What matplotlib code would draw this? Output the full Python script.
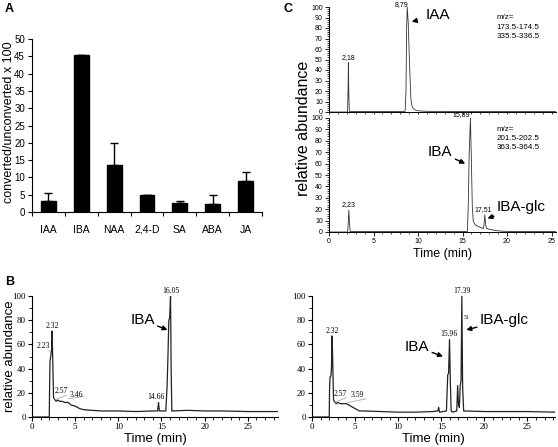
import matplotlib
matplotlib.use("Agg")
import matplotlib.pyplot as plt
from matplotlib.ticker import MultipleLocator, FixedLocator, NullFormatter

# ---------------- data ----------------
categories = ["IAA", "IBA", "NAA", "2,4-D", "SA", "ABA", "JA"]
ratio_values = [3.2, 45.3, 13.5, 4.8, 2.6, 2.3, 9.0]
ratio_errors = [2.3, 0.2, 6.5, 0.2, 0.7, 2.7, 2.6]

# Panel C, top trace (m/z 173.5-174.5, 335.5-336.5)
c_top_time = [0, 2.08, 2.14, 2.18, 2.22, 2.28, 8.55, 8.65, 8.72, 8.79, 8.9, 9.05, 9.2,
              9.35, 9.5, 9.8, 10.2, 11, 25.5]
c_top_abund = [0, 0, 20, 47, 20, 0.5, 0.5, 20, 80, 100, 85, 45, 12, 5, 3, 1.5, 1, 0.6, 0.4]

# Panel C, bottom trace (m/z 201.5-202.5, 363.5-364.5)
c_bot_time = [0, 2.1, 2.16, 2.23, 2.3, 2.38, 15.55, 15.65, 15.75, 15.89, 16.0, 16.1, 16.2,
              16.35, 16.6, 17.0, 17.35, 17.43, 17.51, 17.6, 17.7, 18.2, 19, 20, 25.5]
c_bot_abund = [0, 0, 8, 19, 8, 0.5, 0.5, 25, 70, 100, 60, 22, 10, 7, 5.5, 4, 3, 8, 15, 6,
               3, 2, 1, 0.5, 0.4]

# Panel B, left trace
b1_time = [0, 2.0, 2.04, 2.08, 2.12, 2.18, 2.23, 2.27, 2.32, 2.38, 2.45, 2.5, 2.57, 2.8,
           3.0, 3.2, 3.46, 3.8, 4.2, 4.5, 5.0, 5.5, 6.0, 7, 8, 9, 10, 12, 14, 14.55,
           14.66, 14.75, 15.5, 15.65, 15.75, 15.85, 15.95, 16.05, 16.12, 16.2, 16.3,
           18, 20, 22, 25, 28.5]
b1_abund = [0, 0, 25, 45, 48, 50, 54, 55, 71, 55, 30, 16, 15, 13, 14, 13, 13, 12, 12, 10,
            9, 7, 6, 5.5, 5, 5, 5, 4.5, 5, 5, 12, 5, 5, 25, 50, 80, 82, 100, 40, 5, 5,
            5.5, 5, 5, 4.5, 4.5]

# Panel B, right trace
b2_time = [0, 2.0, 2.04, 2.1, 2.2, 2.26, 2.32, 2.38, 2.45, 2.5, 2.57, 2.8, 3.0, 3.3, 3.59,
           4.0, 4.5, 5.0, 5.5, 6.0, 8, 10, 12, 14, 14.6, 14.7, 14.8, 15.6, 15.75, 15.85,
           15.96, 16.05, 16.15, 16.3, 16.8, 16.9, 17.0, 17.1, 17.2, 17.3, 17.39, 17.48,
           17.6, 20, 25, 28.3]
b2_abund = [0, 0, 25, 33, 34, 40, 67, 54, 30, 14, 13, 11, 12, 11, 11, 11, 9, 7, 5, 5, 4.5,
            4, 4, 4.5, 5, 8, 4, 5, 35, 36, 64, 30, 5, 4, 5, 26, 10, 8, 26, 30, 100, 25,
            5, 4.5, 4.5, 4]

SANS = ["Liberation Sans", "DejaVu Sans"]
SERIF = ["Liberation Serif", "DejaVu Serif"]

fig = plt.figure(figsize=(5.58, 4.47), dpi=100)
W, H = 558.0, 447.0

def ax_px(left, top, right, bottom):
    return fig.add_axes([left / W, 1 - bottom / H, (right - left) / W, (bottom - top) / H])

# ---------------- Panel A ----------------
axA = ax_px(32, 39, 262, 212)
x = list(range(len(categories)))
axA.bar(x, ratio_values, width=0.45, color="black", edgecolor="black")
axA.errorbar(x, ratio_values, yerr=[[0] * len(ratio_errors), ratio_errors], fmt="none",
             ecolor="black", elinewidth=1, capsize=3, capthick=1)
axA.set_xlim(-0.5, len(categories) - 0.5)
axA.set_ylim(0, 50)
axA.yaxis.set_major_locator(MultipleLocator(5))
axA.set_xticks(x)
axA.set_xticklabels(categories, fontfamily=SANS, fontsize=7.5)
axA.xaxis.set_minor_locator(FixedLocator([i - 0.5 for i in range(len(categories) + 1)]))
axA.tick_params(axis="x", which="major", length=0, pad=9)
axA.tick_params(axis="x", which="minor", length=3, width=0.8, direction="out")
axA.tick_params(axis="y", length=3, width=0.8, labelsize=7, pad=2)
for lab in axA.get_yticklabels():
    lab.set_fontfamily(SANS)
for s in ("top", "right"):
    axA.spines[s].set_visible(False)
fig.text(9 / W, 1 - 122 / H, "converted/unconverted x 100", rotation=90, fontsize=9,
         fontfamily=SANS, ha="center", va="center")
fig.text(5 / W, 1 - 12 / H, "A", fontfamily=SANS, fontweight="bold", fontsize=9)

# ---------------- Panel C ----------------
def style_c(ax, show_xlabels):
    ax.set_xlim(0, 25.5)
    ax.set_ylim(0, 100)
    for s in ("top", "right"):
        ax.spines[s].set_visible(False)
    ax.xaxis.set_major_locator(MultipleLocator(5))
    ax.xaxis.set_minor_locator(MultipleLocator(1))
    ax.yaxis.set_major_locator(MultipleLocator(10))
    ax.yaxis.set_minor_locator(MultipleLocator(2))
    ax.tick_params(which="major", length=3, width=0.6, labelsize=5, pad=1.5)
    ax.tick_params(which="minor", length=1.5, width=0.5)
    for sp in ax.spines.values():
        sp.set_linewidth(0.7)
    for lab in ax.get_xticklabels() + ax.get_yticklabels():
        lab.set_fontfamily(SANS)
    if not show_xlabels:
        ax.xaxis.set_major_formatter(NullFormatter())
        ax.tick_params(axis="x", which="both", length=1.5)

axC1 = ax_px(329, 7, 556, 112)
axC1.plot(c_top_time, c_top_abund, color="#333333", lw=0.6)
style_c(axC1, False)
axC1.text(2.18, 49, "2,18", fontsize=5, ha="center", va="bottom", fontfamily=SANS)
axC1.text(8.2, 99, "8,79", fontsize=5, ha="center", va="bottom", fontfamily=SANS)
axC1.annotate("IAA", xy=(9.3, 86), xytext=(12.2, 92), fontsize=11, fontfamily=SANS,
              ha="center", va="center",
              arrowprops=dict(arrowstyle="-|>", color="black", lw=1, shrinkA=6, shrinkB=0,
                              mutation_scale=7))
axC1.text(18.8, 93, "m/z=\n173.5-174.5\n335.5-336.5", fontsize=5.8, va="top", ha="left",
          fontfamily=SANS, linespacing=1.45)

axC2 = ax_px(329, 118, 556, 232)
axC2.plot(c_bot_time, c_bot_abund, color="#333333", lw=0.6)
style_c(axC2, True)
axC2.text(2.23, 21, "2,23", fontsize=5, ha="center", va="bottom", fontfamily=SANS)
axC2.text(14.9, 100, "15,89", fontsize=5, ha="center", va="bottom", fontfamily=SANS)
axC2.text(17.3, 17, "17,51", fontsize=5, ha="center", va="bottom", fontfamily=SANS)
axC2.annotate("IBA", xy=(15.3, 60), xytext=(12.5, 70), fontsize=11, fontfamily=SANS,
              ha="center", va="center",
              arrowprops=dict(arrowstyle="-|>", color="black", lw=1, shrinkA=8, shrinkB=0,
                              mutation_scale=7))
axC2.annotate("IBA-glc", xy=(17.8, 12), xytext=(21.6, 22), fontsize=11, fontfamily=SANS,
              ha="center", va="center",
              arrowprops=dict(arrowstyle="-|>", color="black", lw=1, shrinkA=14, shrinkB=0,
                              mutation_scale=7))
axC2.text(18.8, 93, "m/z=\n201.5-202.5\n363.5-364.5", fontsize=5.8, va="top", ha="left",
          fontfamily=SANS, linespacing=1.45)
axC2.set_xlabel("Time (min)", fontsize=9, fontfamily=SANS, labelpad=2)
fig.text(304 / W, 1 - 128 / H, "relative abundance", rotation=90, fontsize=11.5,
         fontfamily=SANS, ha="center", va="center")
fig.text(283 / W, 1 - 12 / H, "C", fontfamily=SANS, fontweight="bold", fontsize=9)

# ---------------- Panel B ----------------
def style_b(ax, xmax):
    ax.set_xlim(0, xmax)
    ax.set_ylim(0, 100)
    for s in ("top", "right"):
        ax.spines[s].set_visible(False)
    ax.xaxis.set_major_locator(MultipleLocator(5))
    ax.xaxis.set_minor_locator(MultipleLocator(1))
    ax.yaxis.set_major_locator(MultipleLocator(20))
    ax.yaxis.set_minor_locator(MultipleLocator(10))
    ax.tick_params(which="major", length=3, width=0.8, labelsize=6.5, pad=1.5)
    ax.tick_params(which="minor", length=2, width=0.6)
    for lab in ax.get_xticklabels() + ax.get_yticklabels():
        lab.set_fontfamily(SERIF)
    ax.set_xlabel("Time (min)", fontsize=9.5, fontfamily=SANS, labelpad=1)

axB1 = ax_px(32, 296, 278, 417)
axB1.plot(b1_time, b1_abund, color="#222222", lw=0.9)
style_b(axB1, 28.5)
fig.text(10 / W, 1 - 356 / H, "relative abundance", rotation=90, fontsize=9.5,
         fontfamily=SANS, ha="center", va="center")
lbl = dict(fontsize=5.5, fontfamily=SERIF, ha="center", va="bottom")
axB1.text(2.32, 72, "2.32", **lbl)
axB1.text(1.3, 55, "2.23", **lbl)
axB1.plot([2.0, 2.15], [55, 53], color="#999999", lw=0.5)
axB1.text(3.4, 18, "2.57", **lbl)
axB1.plot([2.6, 4.0], [14, 18], color="#999999", lw=0.5)
axB1.text(5.1, 15, "3.46", **lbl)
axB1.plot([4.2, 6.0], [15, 17], color="#999999", lw=0.5)
axB1.text(14.4, 13, "14.66", **lbl)
axB1.text(16.05, 101, "16.05", **lbl)
axB1.annotate("IBA", xy=(15.7, 72), xytext=(12.8, 80), fontsize=11, fontfamily=SANS,
              ha="center", va="center",
              arrowprops=dict(arrowstyle="-|>", color="black", lw=1, shrinkA=9, shrinkB=0,
                              mutation_scale=7))
fig.text(5 / W, 1 - 285 / H, "B", fontfamily=SANS, fontweight="bold", fontsize=9)

axB2 = ax_px(312, 296, 555, 417)
axB2.plot(b2_time, b2_abund, color="#222222", lw=0.9)
style_b(axB2, 28.2)
axB2.text(2.32, 68, "2.32", **lbl)
axB2.text(3.3, 16, "2.57", **lbl)
axB2.plot([2.6, 4.0], [12, 16], color="#999999", lw=0.5)
axB2.text(5.3, 15, "3.59", **lbl)
axB2.plot([4.2, 6.3], [12, 15], color="#999999", lw=0.5)
axB2.text(15.9, 65, "15.96", **lbl)
axB2.text(17.39, 101, "17.39", **lbl)
axB2.text(17.9, 80, "51", fontsize=4, fontfamily=SERIF, ha="center", va="bottom")
axB2.annotate("IBA", xy=(15.2, 50), xytext=(12.2, 58), fontsize=11, fontfamily=SANS,
              ha="center", va="center",
              arrowprops=dict(arrowstyle="-|>", color="black", lw=1, shrinkA=9, shrinkB=0,
                              mutation_scale=7))
axB2.annotate("IBA-glc", xy=(17.9, 72), xytext=(22.3, 80), fontsize=11, fontfamily=SANS,
              ha="center", va="center",
              arrowprops=dict(arrowstyle="-|>", color="black", lw=1, shrinkA=15, shrinkB=0,
                              mutation_scale=7))

fig.savefig("out.png", dpi=100)
